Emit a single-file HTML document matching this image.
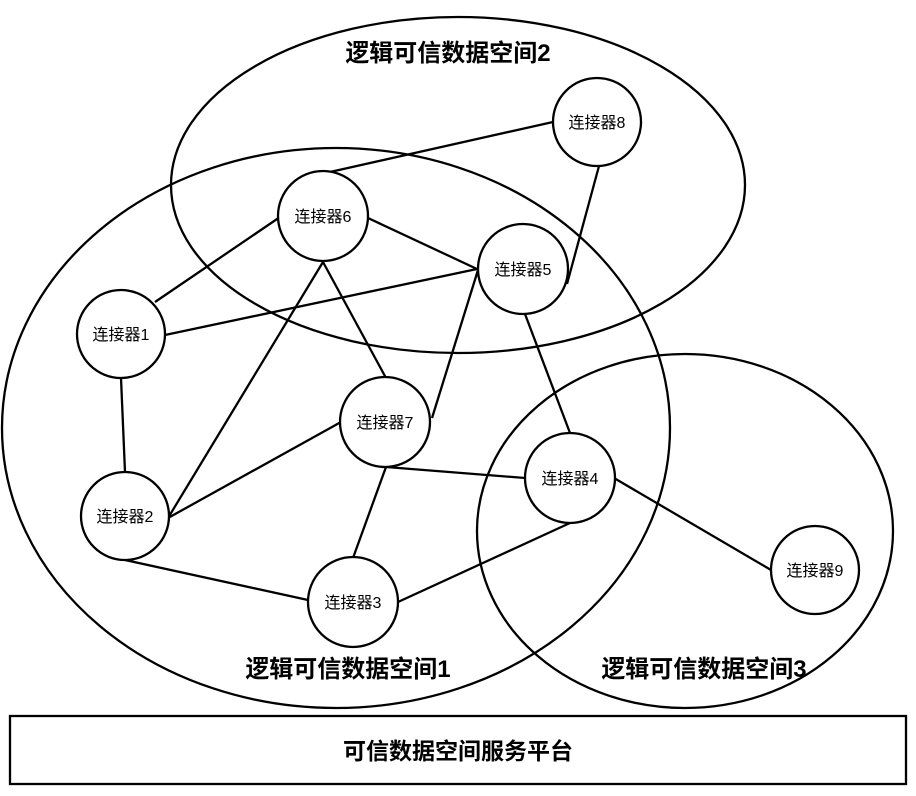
<!DOCTYPE html>
<html><head><meta charset="utf-8"><style>
html,body{margin:0;padding:0;background:#fff;}
svg{display:block;}
text{font-family:"Liberation Sans","Noto Sans CJK SC",sans-serif;}
</style></head><body>
<svg width="916" height="796" viewBox="0 0 916 796" xmlns="http://www.w3.org/2000/svg">
<g fill="none" stroke="#000" stroke-width="2.3">
<ellipse cx="458" cy="185" rx="287" ry="168"/>
<ellipse cx="336" cy="428" rx="334" ry="280"/>
<ellipse cx="685" cy="531" rx="208" ry="177"/>
<rect x="10" y="716" width="896" height="68"/>
<line x1="553" y1="122" x2="330" y2="172"/>
<line x1="599" y1="166" x2="567" y2="284"/>
<line x1="368" y1="218" x2="477" y2="269"/>
<line x1="280" y1="217" x2="155" y2="302"/>
<line x1="165" y1="335" x2="477" y2="269"/>
<line x1="323" y1="262" x2="386" y2="378"/>
<line x1="323" y1="262" x2="168" y2="518"/>
<line x1="121" y1="378" x2="125" y2="472"/>
<line x1="168" y1="518" x2="341" y2="422"/>
<line x1="125" y1="560" x2="308" y2="600"/>
<line x1="478" y1="270" x2="432" y2="418"/>
<line x1="525" y1="314" x2="570" y2="433"/>
<line x1="386" y1="467" x2="353" y2="558"/>
<line x1="386" y1="467" x2="525" y2="478"/>
<line x1="570" y1="523" x2="398" y2="602"/>
<line x1="614" y1="478" x2="771" y2="570"/>
</g>
<g fill="#fff" stroke="#000" stroke-width="2.3">
<circle cx="597" cy="122" r="44"/>
<circle cx="323" cy="216" r="45"/>
<circle cx="523" cy="269" r="45"/>
<circle cx="121" cy="334" r="44"/>
<circle cx="385" cy="422" r="45"/>
<circle cx="570" cy="478" r="45"/>
<circle cx="125" cy="516" r="44"/>
<circle cx="353" cy="602" r="45"/>
<circle cx="815" cy="570" r="44"/>
</g>
<g font-size="16" text-anchor="middle" fill="#000">
<text x="597" y="128">连接器8</text>
<text x="323" y="222">连接器6</text>
<text x="523" y="275">连接器5</text>
<text x="121" y="340">连接器1</text>
<text x="385" y="428">连接器7</text>
<text x="570" y="484">连接器4</text>
<text x="125" y="522">连接器2</text>
<text x="353" y="608">连接器3</text>
<text x="815" y="576">连接器9</text>
</g>
<g font-size="24" font-weight="bold" text-anchor="middle" fill="#000">
<text x="448" y="61">逻辑可信数据空间2</text>
<text x="348" y="677">逻辑可信数据空间1</text>
<text x="704" y="677">逻辑可信数据空间3</text>
<text x="458" y="759" font-size="23">可信数据空间服务平台</text>
</g>
</svg>
</body></html>
